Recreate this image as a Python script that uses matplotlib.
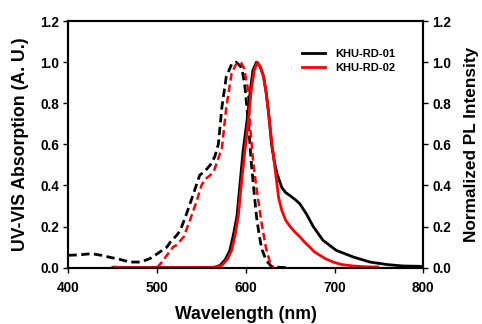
import numpy as np
import matplotlib.pyplot as plt

plt.rcParams['font.family'] = ['Liberation Sans', 'DejaVu Sans']
plt.rcParams['font.weight'] = 'bold'

# UV-VIS absorption (dashed)
abs1_wl = [400, 412, 426, 437, 447, 458, 469, 481, 492, 503, 511, 515, 522, 526, 533, 541, 548, 554, 560,
           565, 569, 573, 578, 584, 589, 594, 596, 599, 603, 606, 609, 612, 615, 618, 623, 629, 640, 650]
abs1_val = [0.06, 0.062, 0.068, 0.06, 0.05, 0.04, 0.027, 0.027, 0.044, 0.076, 0.10, 0.125, 0.157, 0.18, 0.26,
            0.36, 0.45, 0.47, 0.50, 0.54, 0.60, 0.78, 0.93, 0.99, 1.0, 0.98, 0.96, 0.88, 0.70, 0.52, 0.38,
            0.25, 0.16, 0.09, 0.035, 0.005, 0.001, 0.0]
abs2_wl = [500, 505, 511, 518, 522, 530, 537, 545, 550, 554, 560, 564, 568, 573, 578, 584, 589, 594.5, 598,
           602, 605, 608, 611, 614, 618, 623, 627, 631]
abs2_val = [0.0, 0.025, 0.06, 0.10, 0.11, 0.15, 0.23, 0.33, 0.40, 0.43, 0.45, 0.47, 0.52, 0.58, 0.78, 0.945,
            0.99, 1.0, 0.97, 0.88, 0.68, 0.53, 0.42, 0.33, 0.21, 0.09, 0.03, 0.0]

# PL (solid)
pl1_wl = [450, 550, 565, 571, 577, 582, 586, 590, 593.5, 597, 601.5, 605, 608, 612, 616, 620, 623, 626, 629,
          632, 635, 640.5, 645, 650, 656, 661, 668.5, 676, 687, 702, 721, 740, 759, 777, 800]
pl1_val = [0.0, 0.0, 0.002, 0.011, 0.04, 0.084, 0.16, 0.25, 0.41, 0.57, 0.72, 0.86, 0.96, 1.0, 0.98, 0.93,
           0.85, 0.74, 0.60, 0.52, 0.46, 0.39, 0.365, 0.35, 0.33, 0.31, 0.26, 0.20, 0.133, 0.084, 0.052,
           0.027, 0.015, 0.008, 0.006]
pl2_wl = [452, 460, 550, 565, 573, 579, 584, 588, 591.5, 595, 599, 603, 606, 609.5, 613, 617, 620, 623, 626,
          629, 631, 635, 637, 640.5, 645, 650, 655, 661, 666, 672, 677, 683.5, 690, 698.5, 708, 721, 735, 749]
pl2_val = [0.003, 0.0, 0.0, 0.001, 0.011, 0.04, 0.084, 0.16, 0.25, 0.41, 0.57, 0.72, 0.86, 0.96, 1.0, 0.97,
           0.93, 0.85, 0.74, 0.62, 0.55, 0.41, 0.34, 0.28, 0.23, 0.20, 0.175, 0.15, 0.125, 0.10, 0.078,
           0.06, 0.043, 0.027, 0.015, 0.008, 0.004, 0.003]

labels = ['KHU-RD-01', 'KHU-RD-02']
colors = ['black', 'red']

fig = plt.figure(figsize=(4.82, 3.24), dpi=100)
ax = fig.add_axes([0.142, 0.174, 0.736, 0.761])
ax2 = ax.twinx()

ax.plot(abs1_wl, abs1_val, color=colors[0], lw=2.0, dashes=(3, 1.6))
ax.plot(abs2_wl, abs2_val, color=colors[1], lw=1.8, dashes=(3, 1.6))
ax2.plot(pl1_wl, pl1_val, color=colors[0], lw=2.0, label=labels[0])
ax2.plot(pl2_wl, pl2_val, color=colors[1], lw=2.0, label=labels[1])

yt = np.arange(0, 1.21, 0.2)
for a in (ax, ax2):
    a.set_xlim(400, 800)
    a.set_ylim(0, 1.2)
    a.set_yticks(yt)
    a.set_yticklabels(['%.1f' % v for v in yt])
    a.tick_params(axis='y', direction='out', length=3.5, width=1, pad=3, labelsize=9.8)
    for s in a.spines.values():
        s.set_linewidth(1.5)
ax.tick_params(axis='x', direction='out', length=3.5, width=1, pad=6, labelsize=9.8)

ax.set_xticks([400, 500, 600, 700, 800])
ax.set_xlabel('Wavelength (nm)', fontsize=12.7, fontweight='bold', labelpad=8)
ax.set_ylabel('UV-VIS Absorption (A. U.)', fontsize=12.7, fontweight='bold', labelpad=8)
ax2.set_ylabel('Normalized PL Intensity', fontsize=12.4, fontweight='bold', labelpad=9.5)

ax2.legend(loc='upper left', bbox_to_anchor=(0.645, 0.905), frameon=False,
           fontsize=8, handlelength=2.1, handletextpad=0.9, borderaxespad=0.0,
           labelspacing=0.4)

fig.savefig('out.png', dpi=100)
